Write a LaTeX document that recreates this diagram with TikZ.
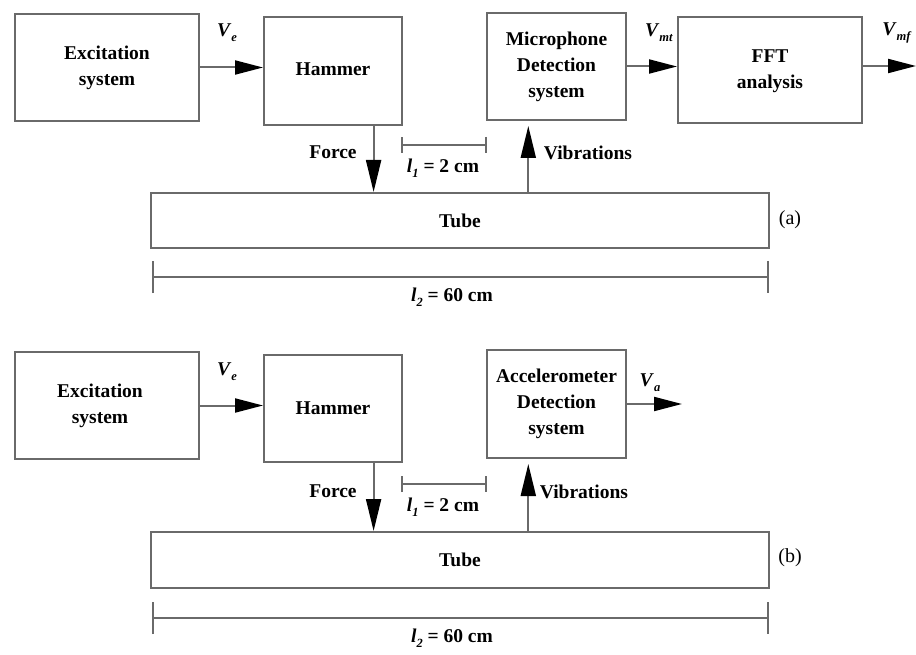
\documentclass[tikz,border=0pt]{standalone}
\usepackage{fontspec}
\setmainfont{Liberation Serif}
\usetikzlibrary{arrows.meta,calc}
\definecolor{linegray}{HTML}{6A6A6A}
\newcommand{\subv}[2]{\textbf{\textit{#1}}\raisebox{-5pt}{\fontsize{12.5}{13}\selectfont\textbf{\textit{#2}}}}
\tikzset{
  blk/.style={draw=linegray, line width=2pt, align=center, inner sep=0pt,
    font=\fontsize{19.5}{26}\selectfont\bfseries},
  lbl/.style={inner sep=0pt, font=\fontsize{19.5}{22}\selectfont\bfseries},
  sig/.style={draw=linegray, line width=2pt, -{Triangle[length=28pt,width=14pt,fill=black,color=black]}},
  sigv/.style={draw=linegray, line width=2pt, -{Triangle[length=32pt,width=15pt,fill=black,color=black]}},
  dimshort/.style={draw=linegray, line width=2pt, {Bar[width=16pt]}-{Bar[width=16pt]}},
  dimlong/.style={draw=linegray, line width=2pt, {Bar[width=32pt]}-{Bar[width=32pt]}}
}
\begin{document}
\begin{tikzpicture}[x=1pt,y=-1pt]
\useasboundingbox (0,0) rectangle (916,655);
\fill[white] (0,0) rectangle (916,655);

% ---------------- panel (a) ----------------
\node[blk, minimum width=184pt, minimum height=107pt] (exa) at (107,67.5) {Excitation\\system};
\node[blk, minimum width=138pt, minimum height=108pt] (hama) at (333,71) {\raisebox{4pt}{Hammer}};
\node[blk, minimum width=139pt, minimum height=107pt] (mica) at (556.5,66.5) {Microphone\\Detection\\system};
\node[blk, minimum width=184pt, minimum height=106pt] (ffta) at (770,70)
  {\raisebox{11pt}{\begin{tabular}{@{}c@{}}FFT\\analysis\end{tabular}}};
\node[blk, minimum width=618pt, minimum height=55pt] (tubea) at (460,220.5) {Tube};
\node[lbl, font=\fontsize{20}{22}\selectfont] (taga) at (790,220) {(a)};

\draw[sig] (exa.east) -- (exa.east -| hama.west);
\node[lbl] (vea) at (227,33) {\subv{V}{e}};
\draw[sig] (mica.east) -- (mica.east -| ffta.west);
\node[lbl] (vmt) at (659,33) {\subv{V}{mt}};
\coordinate (outa) at (916,66);
\draw[sig] (ffta.east |- outa) -- (outa);
\node[lbl] (vmf) at (897,33) {\subv{V}{mf}};

\coordinate (fa) at ($(hama.south west)!0.79!(hama.south east)$);
\draw[sigv] (fa) -- (fa |- tubea.north);
\node[lbl] (forcea) at (333,152) {Force};
\coordinate (va) at ($(mica.south west)!0.30!(mica.south east)$);
\draw[sigv, shorten >=5pt] (va |- tubea.north) -- (va);
\node[lbl] (viba) at (588,153) {Vibrations};

\coordinate (l1a0) at (401,145);
\coordinate (l1a1) at (487,145);
\draw[dimshort] (l1a0) -- (l1a1);
\node[lbl] (l1a) at (443,168) {\subv{l}{1} = 2 cm};
\coordinate (l2a0) at (152,277);
\coordinate (l2a1) at (769,277);
\draw[dimlong] (l2a0) -- (l2a1);
\node[lbl] (l2a) at (452,297) {\subv{l}{2} = 60 cm};

% ---------------- panel (b) ----------------
\node[blk, minimum width=184pt, minimum height=107pt] (exb) at (107,405.5) {\hspace*{-14pt}Excitation\\\hspace*{-14pt}system};
\node[blk, minimum width=138pt, minimum height=107pt] (hamb) at (333,408.5) {Hammer};
\node[blk, minimum width=139pt, minimum height=108pt] (accb) at (556.5,404) {Accelerometer\\Detection\\system};
\node[blk, minimum width=618pt, minimum height=56pt] (tubeb) at (460,560) {Tube};
\node[lbl, font=\fontsize{20}{22}\selectfont] (tagb) at (790,558) {(b)};

\draw[sig] (exb.east) -- (exb.east -| hamb.west);
\node[lbl] (veb) at (227,372) {\subv{V}{e}};
\coordinate (outb) at (682,404);
\draw[sig] (accb.east |- outb) -- (outb);
\node[lbl] (vab) at (650,383) {\subv{V}{a}};

\coordinate (fb) at ($(hamb.south west)!0.79!(hamb.south east)$);
\draw[sigv] (fb) -- (fb |- tubeb.north);
\node[lbl] (forceb) at (333,491) {Force};
\coordinate (vb) at ($(accb.south west)!0.30!(accb.south east)$);
\draw[sigv, shorten >=5pt] (vb |- tubeb.north) -- (vb);
\node[lbl] (vibb) at (584,492) {Vibrations};

\coordinate (l1b0) at (401,484);
\coordinate (l1b1) at (487,484);
\draw[dimshort] (l1b0) -- (l1b1);
\node[lbl] (l1b) at (443,507) {\subv{l}{1} = 2 cm};
\coordinate (l2b0) at (152,618);
\coordinate (l2b1) at (769,618);
\draw[dimlong] (l2b0) -- (l2b1);
\node[lbl] (l2b) at (452,638) {\subv{l}{2} = 60 cm};
\end{tikzpicture}
\end{document}
